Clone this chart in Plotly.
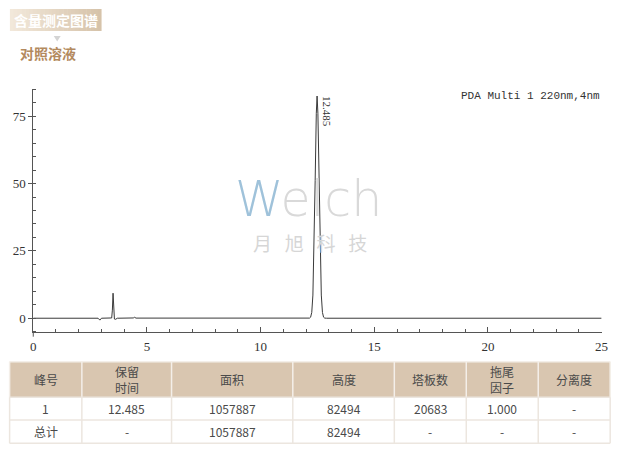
import plotly.graph_objects as go

# ---------------- data ----------------
time_min = [0.0, 2.85, 2.93, 3.0, 3.45, 3.48, 3.51, 3.54, 3.57, 3.62, 3.7,
            4.4, 4.45, 4.52, 8.6, 8.7, 8.8, 12.1, 12.15, 12.2, 12.25, 12.3,
            12.35, 12.4, 12.45, 12.485, 12.52, 12.57, 12.62, 12.67, 12.72,
            12.77, 12.82, 12.9, 25.0]
signal_mau = [0.0, 0.0, -0.7, 0.0, 0.1, 3.0, 9.3, 4.0, -0.3, -0.4, 0.0,
              0.1, 0.35, 0.05, 0.0, 0.15, 0.0, 0.0, 0.05, 0.39, 2.16, 8.6,
              24.8, 51.2, 76.1, 82.5, 76.1, 51.2, 24.8, 8.6, 2.16,
              0.39, 0.05, 0.0, 0.0]
peak_rt = 12.485
peak_height = 82.5
peak_label = "12.485"
channel_label = "PDA Multi 1 220nm,4nm"

x_ticks = [0, 5, 10, 15, 20, 25]
y_ticks = [0, 25, 50, 75]

badge_title = "含量测定图谱"
sample_title = "对照溶液"

table_header = ["峰号", "保留<br>时间", "面积", "高度", "塔板数", "拖尾<br>因子", "分离度"]
col_peak_no = ["1", "总计"]
col_rt = ["12.485", "-"]
col_area = ["1057887", "1057887"]
col_height = ["82494", "82494"]
col_plates = ["20683", "-"]
col_tailing = ["1.000", "-"]
col_resolution = ["-", "-"]
table_columns = [col_peak_no, col_rt, col_area, col_height, col_plates,
                 col_tailing, col_resolution]

watermark_en = "Welch"
watermark_cn = ["月", "旭", "科", "技"]

# ---------------- layout helpers ----------------
W, H = 629, 455
def px(x):
    return x / W
def py(y):
    return 1 - y / H

AX_L, AX_R, AX_T, AX_B = 30.7, 607.3, 89.3, 331.7

fig = go.Figure()

fig.add_trace(go.Scatter(
    x=time_min, y=signal_mau, mode="lines",
    line=dict(color="#3a3a3a", width=1),
    hoverinfo="skip", showlegend=False,
))

axis_font = dict(family="Liberation Serif, Times New Roman, serif", size=13, color="#333333")

fig.update_layout(
    width=W, height=H,
    margin=dict(l=0, r=0, t=0, b=0, pad=0),
    paper_bgcolor="white", plot_bgcolor="white",
    showlegend=False,
    xaxis=dict(
        domain=[px(AX_L), px(AX_R)],
        range=[0, 25],
        tickvals=x_ticks, ticktext=[str(v) for v in x_ticks],
        ticks="inside", ticklen=5, tickcolor="#555555", tickwidth=1,
        minor=dict(dtick=1, tick0=0, ticks="inside", ticklen=3,
                   tickcolor="#555555", tickwidth=1),
        showline=True, linecolor="#555555", linewidth=1,
        showgrid=False, zeroline=False,
        tickfont=axis_font, ticklabelstandoff=3,
        anchor="y", fixedrange=True,
    ),
    yaxis=dict(
        domain=[py(AX_B), py(AX_T)],
        range=[-5, 85],
        tickvals=y_ticks, ticktext=[str(v) for v in y_ticks],
        ticks="outside", ticklen=4, tickcolor="#555555", tickwidth=1,
        minor=dict(dtick=5, tick0=0, ticks="inside", ticklen=3,
                   tickcolor="#555555", tickwidth=1),
        showline=True, linecolor="#555555", linewidth=1,
        showgrid=False, zeroline=False,
        tickfont=axis_font,
        anchor="x", fixedrange=True,
    ),
)

shapes = []
ann = []

# badge with simulated gradient
bx0, bx1, by0, by1 = 7, 100, 9, 31
n = 24
c0 = (242, 232, 218)
c1 = (214, 195, 170)
for i in range(n):
    t = i / (n - 1)
    col = tuple(round(c0[k] + (c1[k] - c0[k]) * t) for k in range(3))
    xa = bx0 + (bx1 - bx0) * i / n
    xb = bx0 + (bx1 - bx0) * (i + 1) / n + 0.5
    shapes.append(dict(type="rect", xref="paper", yref="paper",
                       x0=px(xa), x1=px(min(xb, bx1)), y0=py(by1), y1=py(by0),
                       fillcolor="rgb(%d,%d,%d)" % col, line=dict(width=0),
                       layer="below"))
shapes.append(dict(type="path", xref="paper", yref="paper",
                   path="M %f %f L %f %f L %f %f Z" % (px(51.5), py(36), px(58.5), py(36), px(55), py(41.5)),
                   fillcolor="#d4d4d4", line=dict(width=0)))

# y axis slight extension below the x axis line (as in the reference frame)
shapes.append(dict(type="line", xref="paper", yref="paper",
                   x0=px(AX_L), x1=px(AX_L), y0=py(AX_B + 5), y1=py(AX_B),
                   line=dict(color="#555555", width=1)))

# ---------------- table (drawn with shapes + text) ----------------
col_x = [6.7, 80, 171, 294, 397, 470, 543, 616]
row_y = [361.7, 397.3, 420.0, 443.3]
border_body = "#ece6df"
border_head = "#f4efe9"
shapes.append(dict(type="rect", xref="paper", yref="paper",
                   x0=px(col_x[0]), x1=px(col_x[-1]), y0=py(row_y[1]), y1=py(row_y[0]),
                   fillcolor="#d9c6b0", line=dict(width=0), layer="below"))
for xv in col_x:
    shapes.append(dict(type="line", xref="paper", yref="paper",
                       x0=px(xv), x1=px(xv), y0=py(row_y[1]), y1=py(row_y[0]),
                       line=dict(color=border_head, width=1.5)))
    shapes.append(dict(type="line", xref="paper", yref="paper",
                       x0=px(xv), x1=px(xv), y0=py(row_y[-1]), y1=py(row_y[1]),
                       line=dict(color=border_body, width=1.5)))
for yv in row_y:
    shapes.append(dict(type="line", xref="paper", yref="paper",
                       x0=px(col_x[0]), x1=px(col_x[-1]), y0=py(yv), y1=py(yv),
                       line=dict(color=border_body if yv != row_y[0] else border_head, width=1.5)))

tfont = dict(family="Noto Sans CJK SC", size=12, color="#4a4a4a")
for j, htxt in enumerate(table_header):
    ann.append(dict(text=htxt, xref="paper", yref="paper",
                    x=px((col_x[j] + col_x[j + 1]) / 2), y=py((row_y[0] + row_y[1]) / 2),
                    xanchor="center", yanchor="middle", showarrow=False, font=tfont))
for j, column in enumerate(table_columns):
    for i, val in enumerate(column):
        ann.append(dict(text=val, xref="paper", yref="paper",
                        x=px((col_x[j] + col_x[j + 1]) / 2),
                        y=py((row_y[i + 1] + row_y[i + 2]) / 2),
                        xanchor="center", yanchor="middle", showarrow=False, font=tfont))

fig.update_layout(shapes=shapes)

ann.append(dict(text="<b>" + badge_title + "</b>", xref="paper", yref="paper",
                x=px(53.5), y=py(20), xanchor="center", yanchor="middle",
                showarrow=False,
                font=dict(family="Noto Sans CJK SC", size=14, color="white")))
ann.append(dict(text="<b>" + sample_title + "</b>", xref="paper", yref="paper",
                x=px(15), y=py(53), xanchor="left", yanchor="middle",
                showarrow=False,
                font=dict(family="Noto Sans CJK SC", size=14, color="#b38a5e")))
ann.append(dict(text=channel_label, xref="paper", yref="paper",
                x=px(608), y=py(96), xanchor="right", yanchor="middle",
                showarrow=False,
                font=dict(family="Liberation Mono", size=11, color="#333333")))
ann.append(dict(text=peak_label, xref="x", yref="y",
                x=peak_rt, y=peak_height, xshift=10, yshift=-15,
                textangle=90, xanchor="center", yanchor="middle",
                showarrow=False,
                font=dict(family="Liberation Serif, serif", size=11, color="#333333")))

# watermark (single texts so the letters do not collide)
wm_text = ("<span style='color:#9fc2da'>%s</span>%s" % (watermark_en[0], watermark_en[1:]))
ann.append(dict(text=wm_text, xref="paper", yref="paper",
                x=px(310), y=py(199), xanchor="center", yanchor="middle",
                showarrow=False,
                font=dict(family="DejaVu Sans", size=49, weight=200, color="#d9d9d9")))
cn_text = "\u00a0\u00a0\u00a0".join(watermark_cn)
ann.append(dict(text=cn_text, xref="paper", yref="paper",
                x=px(311), y=py(242), xanchor="center", yanchor="middle",
                showarrow=False,
                font=dict(family="Noto Sans CJK SC", size=19, color="#d6d6d6")))
fig.update_layout(annotations=ann)

fig.write_html("out.html", config={"displayModeBar": False},
               post_script="document.body.style.margin='0';document.body.style.padding='0';")
